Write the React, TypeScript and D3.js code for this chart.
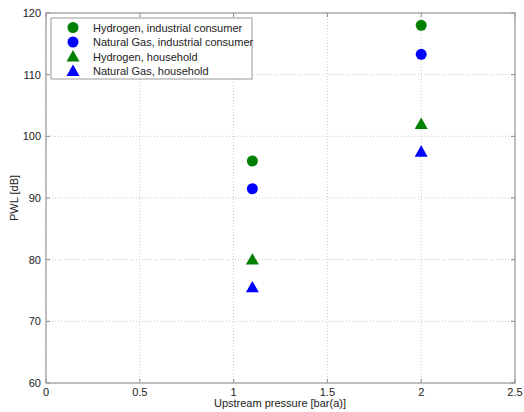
import React from "react";
import * as d3 from "d3";

const xTicks = [0, 0.5, 1, 1.5, 2, 2.5];
const yTicks = [60, 70, 80, 90, 100, 110, 120];
const pressures = [1.1, 2];
const h2Industrial = [96, 118];
const ngIndustrial = [91.5, 113.3];
const h2Household = [80, 102];
const ngHousehold = [75.5, 97.5];

const seriesList = [
  { name: "Hydrogen, industrial consumer", values: h2Industrial, color: "#008000", shape: "circle" },
  { name: "Natural Gas, industrial consumer", values: ngIndustrial, color: "#0000ff", shape: "circle" },
  { name: "Hydrogen, household", values: h2Household, color: "#008000", shape: "triangle" },
  { name: "Natural Gas, household", values: ngHousehold, color: "#0000ff", shape: "triangle" },
];

const L = 46, R = 515, T = 13, B = 383;

function Marker({ x, y, shape, color }: { x: number; y: number; shape: string; color: string }) {
  if (shape === "circle") return <circle cx={x} cy={y} r={5.5} fill={color} />;
  const s = 6.5;
  return <path d={`M${x},${y - s}L${x + s},${y + s * 0.75}L${x - s},${y + s * 0.75}Z`} fill={color} />;
}

export default function App() {
  const x = d3.scaleLinear().domain([0, 2.5]).range([L, R]);
  const y = d3.scaleLinear().domain([60, 120]).range([B, T]);
  const font = "'Liberation Sans', Arial, sans-serif";
  return (
    <svg width={524} height={412} style={{ position: "absolute", left: 0, top: 0 }} fontFamily={font}>
      <rect x={0} y={0} width={524} height={412} fill="#fff" />
      {xTicks.map((t) => (
        <g key={"x" + t}>
          <line x1={x(t)} x2={x(t)} y1={T} y2={B} stroke="#c8c8c8" strokeDasharray="1,2" />
          <line x1={x(t)} x2={x(t)} y1={B} y2={B - 4} stroke="#888" />
          <line x1={x(t)} x2={x(t)} y1={T} y2={T + 4} stroke="#888" />
          <text x={x(t)} y={B + 13} fontSize={11} textAnchor="middle" fill="#222">{t}</text>
        </g>
      ))}
      {yTicks.map((t) => (
        <g key={"y" + t}>
          <line x1={L} x2={R} y1={y(t)} y2={y(t)} stroke="#c8c8c8" strokeDasharray="1,2" />
          <line x1={L} x2={L + 4} y1={y(t)} y2={y(t)} stroke="#888" />
          <line x1={R} x2={R - 4} y1={y(t)} y2={y(t)} stroke="#888" />
          <text x={L - 5} y={y(t) + 4} fontSize={11} textAnchor="end" fill="#222">{t}</text>
        </g>
      ))}
      <rect x={L} y={T} width={R - L} height={B - T} fill="none" stroke="#999" strokeWidth={1.2} />
      {seriesList.map((s) =>
        s.values.map((v, i) => (
          <Marker key={s.name + i} x={x(pressures[i])} y={y(v)} shape={s.shape} color={s.color} />
        ))
      )}
      <g>
        <rect x={51} y={18} width={201} height={61} fill="#fff" stroke="#999" />
        {seriesList.map((s, i) => (
          <g key={"lg" + i}>
            <Marker x={73} y={27.5 + i * 14.5} shape={s.shape} color={s.color} />
            <text x={93} y={31.5 + i * 14.5} fontSize={11} fill="#222">{s.name}</text>
          </g>
        ))}
      </g>
      <text x={280} y={407} fontSize={11} textAnchor="middle" fill="#222">Upstream pressure [bar(a)]</text>
      <text transform="translate(18,198) rotate(-90)" fontSize={11} textAnchor="middle" fill="#222">PWL [dB]</text>
    </svg>
  );
}
